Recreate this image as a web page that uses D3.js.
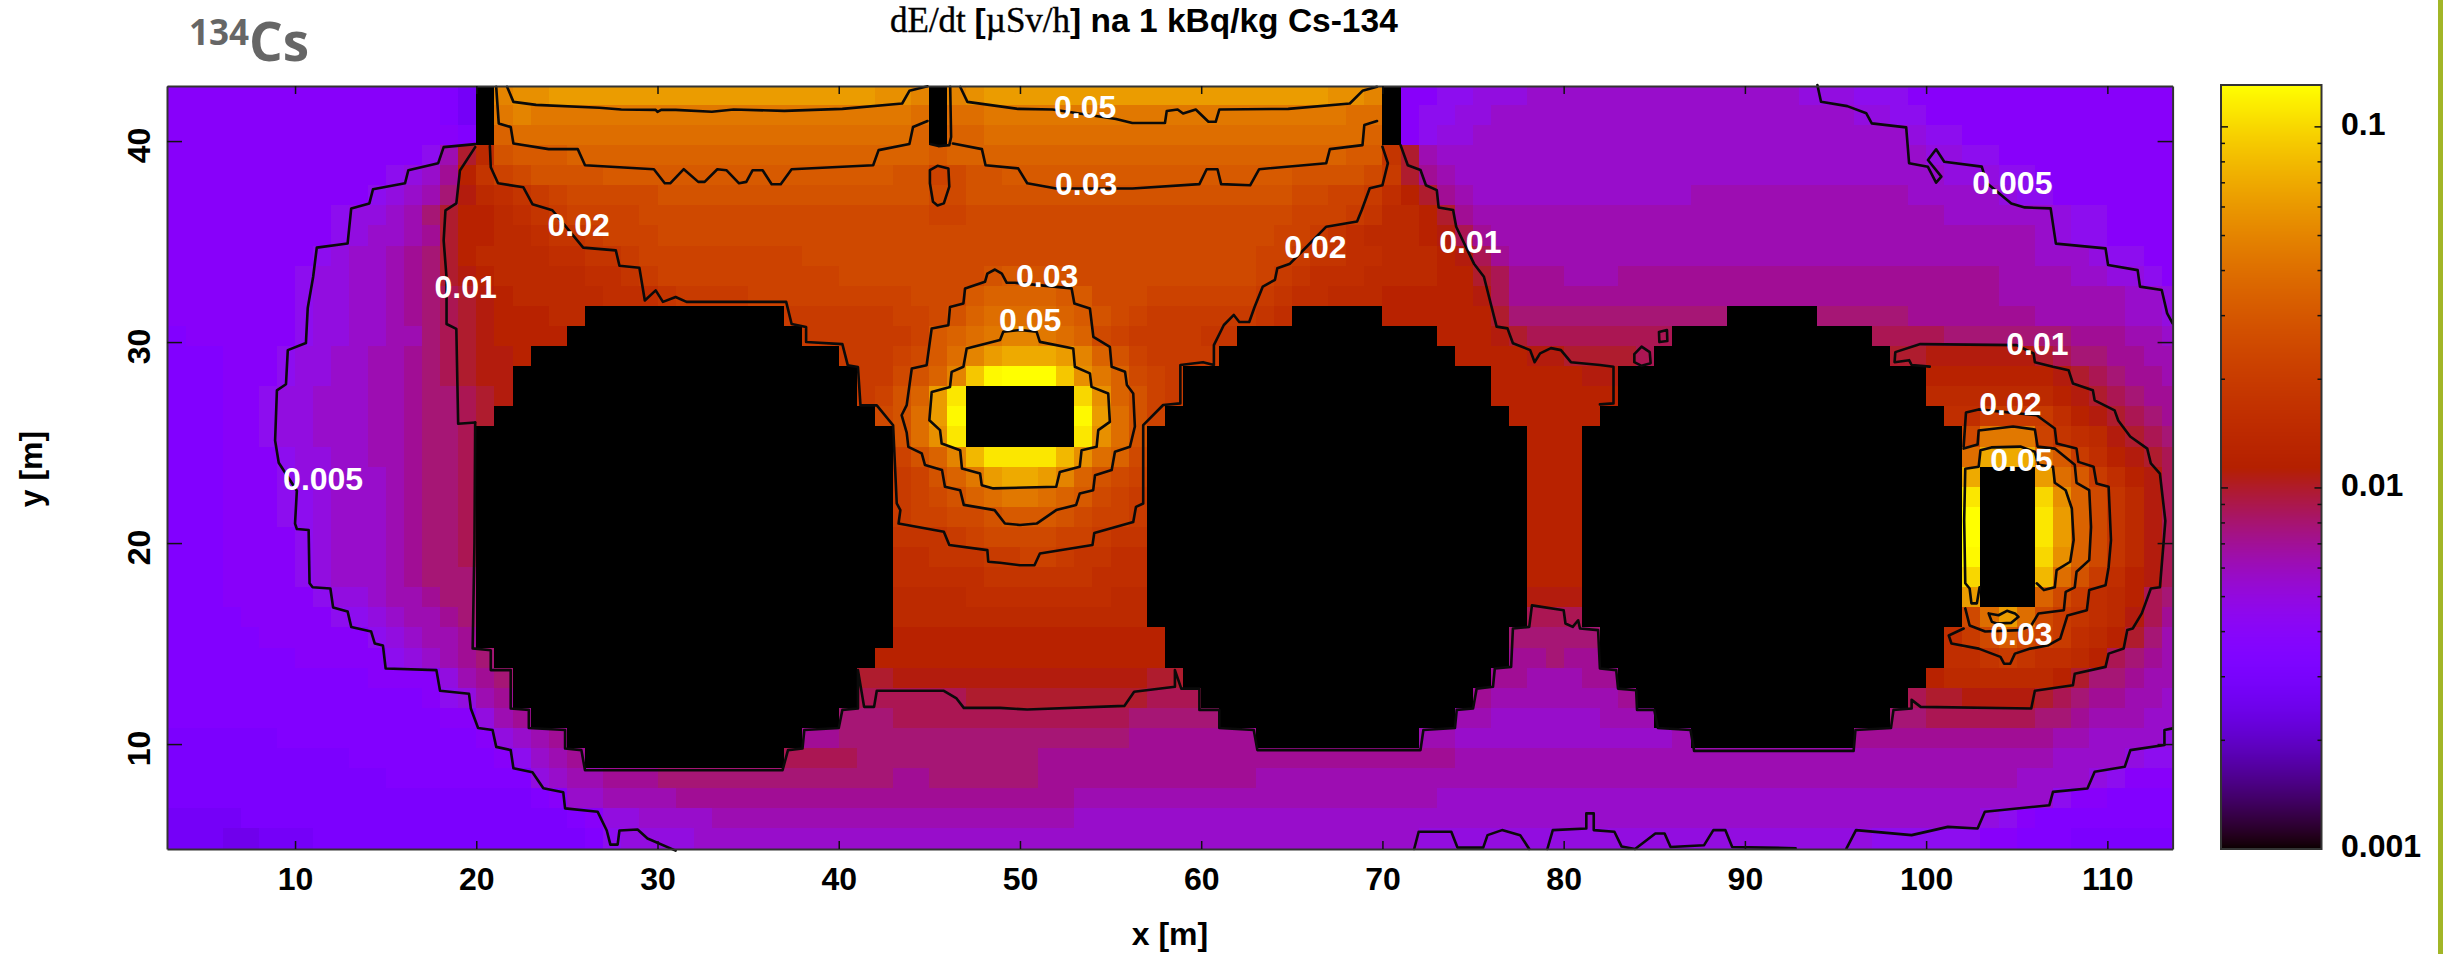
<!DOCTYPE html>
<html>
<head>
<meta charset="utf-8">
<title>dE/dt Cs-134</title>
<script src="https://cdn.jsdelivr.net/npm/d3@7"></script>
<style>
  html, body { margin: 0; padding: 0; background: #fff; }
  svg { display: block; }
  text { font-family: "Liberation Sans", Arial, sans-serif; font-weight: bold; fill: #000; }
</style>
</head>
<body>
<svg id="chart" width="2443" height="954"></svg>
<script>
// Dose rate per cell. One string per metre row, top row first.
// Each character is a level on a log scale (base 36, six levels = a doubling, "0" = 0.0025),
// "." is a cell with no dose (buildings and sources, drawn black).
// Groups of ten columns: x = 3-12, 13-22, ... 103-112, then 113.
var doseRows = [
  "4444444444 4444431.qr rsssssssss sssssssssr rq.qrsssss ssssssssss ssssrrq.44 5566677777 7777777777 6665554444 4444444444 4",
  "4444444444 4444431.pq pppppppppp pppppppppp po.ooppppp pppppppppp pppppoo.45 5667777777 7777777777 7776655444 4444444444 4",
  "4444444444 4444443.no oooooooooo oooooooooo on.nnooooo oooooooooo oooooon.45 6677777777 7777777777 7777776554 4444444444 4",
  "4444444444 444458cflm mmnnnnnnnn nnnnnnnnnn nnmnnnnnnn nnnnnnnnnn nnnnnmmhc8 7777777777 7777777777 7777777665 5444444444 4",
  "4444444444 445679ehjk llllmmmmmm mmmmmmmmmm lljkllmmmm mmmmmmmmmm mmllllkic9 8777777777 7777777777 7777777766 6554444444 4",
  "4444444444 45678adfgh ijkkkkklll llllllllll llkkllllll llllllllll llkkjjigec 9877777777 7777888888 8888887777 7655444444 4",
  "4444444445 6678aceefg hijjjjkkkk kkkkkkkkkk kkjjkkkkkk kkkkkkkkkk kkjjjihffe c988888888 8888888888 8888888877 7777655444 4",
  "4444444445 67789ceeff ghhijjjkkk kkkkkkkkkk kkkkkkkkkk kkkkkkkkkk kjjihgfffe db98888888 8888888888 8888888888 8887655444 4",
  "4444444456 7789acefff fgghhijjjj jjjjjkkkkk kkkkkkkkkk kkkkkkkkkk jjihhggfff edb9888888 8888888888 8888888888 8887776554 4",
  "4444444566 7789acdeff fffgghijjj jjjjjjjkkk kkkkklmlll kkkkkkkkkk jihgggffff eecb999888 9999999999 9999999999 9888877665 4",
  "4444444566 7789abcdef ffffggghii iijjjjjjjj jkkkmnnnnm mkkkjjjjjj ihggfffeee eedb999999 9999999999 9999999999 9888888877 6",
  "4444444566 7789abcdee eff....... ....iiiiii jjklnoooon mlkjiiiiii hg.....eee eeecaaaaaa aaaaaa.... .aaaaa9999 9998888877 6",
  "3444444566 7788abcdee ee........ .....iiiii ijmnopqqpo nkjiiiihh. .......... eeedcbbbbb bbb....... ....bbbbaa aaaaa99988 7",
  "3334445667 7889abcdde .......... .......iii jkmoqsttts qnljiiii.. .......... .eeeeddccc cb........ .....ccddd dddcbaa998 8",
  "3334445667 7889abcdd. .......... ........ii klnqvyzzzv rpnkji.... .......... ...eeeeedd .......... .......eee eeeedcba99 8",
  "3334456677 7889aabcd. .......... ........ij lnsx...... wrnlji.... .......... ...eeeeeee .......... .......fff ffffedcba9 9",
  "3334456677 7889aabc.. .......... .........k losy...... ysolj..... .......... ....eeeee. .......... ........gg iiiigedcba 9",
  "3334456677 7889aab... .......... .......... lorx...... xrol...... .......... .....eee.. .......... .........k pppjhgfdcb a",
  "3334445667 7889aab... .......... .......... jlnquxxxxu ronk...... .......... .....eee.. .......... .........o tttomigedc b",
  "3334445667 7789aab... .......... .......... ijlnpsttsq nlkj...... .......... .....eee.. .......... .........t ...somiged b",
  "3334445567 7789aab... .......... .......... ijklnoppon mkji...... .......... .....eee.. .......... .........x ...wrnkhfd b",
  "3334445567 7789aab... .......... .......... ijjkklmmml kjji...... .......... .....eee.. .......... .........z ...xsnkhfd b",
  "3334444567 7789aab... .......... .......... hhhijkkkkj jihh...... .......... .....eee.. .......... .........z ...xsnkhfd b",
  "3334444567 7789aab... .......... .......... gghhhiijji hhgg...... .......... .....eee.. .......... .........y ...wrnkhfd b",
  "3334444567 7789aaa... .......... .......... ggggghhhhh hggg...... .......... .....eee.. .......... .........w ...uoliged b",
  "3334444456 67889aa... .......... .......... ffffgggggg ggff...... .......... .....ddd.. .......... .........s ...nkigfeb a",
  "3333444445 567889a... .......... .......... ffffffffff ffff...... .......... .....bbb.. .......... .........k osokihgfdb 9",
  "3333344444 4567889... .......... .......... eeeeeeeeee eeeee..... .......... ....aaaaa. .......... ........gi kmkjigfeca 8",
  "3333333444 4456789a.. .......... .........e eeeeeeeeee eeeee..... .......... ....99a99. .......... ........gg hihggfeba9 8",
  "3333333333 34444689a. .......... ........cc dddddddddd ddddcc.... .......... ...9988899 .......... .......eff ffffecaa98 8",
  "3333333333 333345689. .......... ........bb bbbbcccccc ccccbbb... .......... ..98888888 9......... ......bccd dddcba9988 7",
  "3333333333 3333344689 .......... .......aaa bbbbbbbbbb bbbaaaaa.. .......... .887777778 88........ .....aabbb bbbaa98887 7",
  "2222223333 3333333467 89........ .....99aaa aaaaaaaaaa aaa9999999 .........8 8777777777 7778...... ...9999999 9999887777 6",
  "2222222222 3333333345 789....... ....bbbbaa aaaaaaaa99 9999999999 9999999999 9888888888 8888888888 8888888888 8888777765 5",
  "2222222222 2233333333 6788999aaa aaaaaaaaaa 99aaaaaa99 9999999999 8888888888 8888888888 8888888888 8888888888 8877776544 4",
  "2222222222 2222222222 3477888899 9999999999 9999999999 8888888888 8888888888 7777777777 7777777777 7777777777 7777544333 3",
  "1111222222 2222222222 2234667777 8888888888 8888888888 7777777777 7777777777 7777777777 7777777777 7777777777 6543333333 3",
  "1110011122 2222222222 2223566667 7777777777 7777777777 7777777777 7777777776 6666666666 6666666666 6666555555 4433322222 2"
];

var xTicks = [10, 20, 30, 40, 50, 60, 70, 80, 90, 100, 110];
var yTicks = [10, 20, 30, 40];
var cbMajorTicks = [0.001, 0.01, 0.1];
var cbMinorTicks = [0.002, 0.003, 0.004, 0.005, 0.006, 0.007, 0.008, 0.009,
  0.02, 0.03, 0.04, 0.05, 0.06, 0.07, 0.08, 0.09];

// Contour lines, in metres
var contour005Left = [[19.94,39.85],[18.2,39.7],[17.9,38.9],[16.25,38.55],[16.07,37.9],[14.3,37.6],[14.1,36.9],[13.1,36.65],[12.9,34.9],[11.2,34.7],[11,33.25],[10.7,31.7],[10.6,29.95],[9.6,29.6],[9.5,27.9],[9,27.6],[8.9,25.1],[9.1,24],[10.1,22.6],[10,20.97],[10.1,20.7],[10.75,20.65],[10.8,18],[10.97,17.8],[11.95,17.74],[12.1,16.8],[12.9,16.6],[13.1,15.83],[14.2,15.6],[14.4,15],[14.85,14.9],[15,13.76],[17.8,13.68],[18,12.65],[19.6,12.5],[19.7,11.77],[20.1,10.8],[20.9,10.7],[21.1,9.86],[21.9,9.7],[22.05,8.8],[23.1,8.6],[23.7,7.8],[24.8,7.6],[24.9,6.8],[26.7,6.63],[27.2,5.7],[27.4,5],[27.8,5],[27.9,5.7],[28.9,5.75],[29.45,5.3],[31,4.7]];
var contour005Right = [[94,42.79],[94.2,41.96],[95.65,41.74],[96.7,41.38],[97,40.88],[98.9,40.68],[99.06,38.9],[100.1,38.72],[100.55,37.93],[100.84,38.23],[100.1,39.06],[100.55,39.59],[101,38.97],[103.07,38.73],[103.36,37.9],[104.7,36.9],[105.44,36.7],[106.87,36.65],[107.16,34.9],[109.9,34.66],[110.04,33.83],[111.67,33.58],[111.8,32.76],[113,32.59],[113.3,31.43],[113.6,30.93]];
var contour005Lower = [[113.6,10.78],[113.15,10.7],[113.15,9.95],[111.27,9.7],[110.96,8.87],[109.3,8.62],[108.9,7.79],[107,7.62],[106.8,6.96],[103.24,6.63],[102.84,5.8],[101.2,5.88],[99.2,5.47],[96.13,5.72],[95.6,4.8]];
var contour005Bumps1 = [[71.75,4.78],[72,5.64],[73.8,5.64],[74.14,4.85],[75.56,4.85],[75.8,5.47],[76.6,5.72],[77.6,5.47],[78.1,4.78]];
var contour005Bumps2 = [[79.1,4.78],[79.4,5.72],[81.25,5.8],[81.25,6.55],[81.66,6.55],[81.66,5.72],[82.8,5.64],[83.2,4.9],[83.94,4.78],[85.06,5.55],[85.57,5.55],[85.9,4.88],[87.75,4.97],[88.26,5.72],[88.92,5.72],[89.3,4.88],[92.8,4.82]];
var contour01Left = [[19.94,39.7],[19.1,38.54],[18.9,36.9],[18.3,36.55],[18.2,35.06],[18.36,33.2],[18.36,30.9],[18.9,30.66],[19,25.94],[19.94,26]];
var contour01Top = [[71,39.8],[71.4,38.8],[72.1,38.56],[72.4,37.8],[73,37.56],[73.1,36.7],[73.9,36.57],[74.07,35.74],[75.05,33.9],[75.6,33.25],[76.3,30.77],[76.9,30.68],[77.2,29.94],[78.15,29.6],[78.4,29],[78.7,29.44],[79.3,29.7],[79.85,29.6],[80.4,29],[82,28.86],[82.75,28.77],[82.75,26.95],[82,26.9]];
var contour01Around = [[19.94,26],[19.9,20],[19.8,14.76],[20.8,14.67],[20.8,13.68],[21.9,13.68],[21.9,11.77],[22.9,11.7],[22.9,10.8],[24.9,10.7],[24.9,9.78],[25.8,9.7],[26,8.7],[36.9,8.7],[37.2,9.7],[38,9.78],[38.1,10.7],[40,10.8],[40.2,11.7],[41.06,11.77],[41.06,13.68],[41.4,11.85],[41.95,11.85],[42.1,12.65],[45.8,12.65],[46.5,12.27],[46.9,11.8],[48.9,11.8],[50.4,11.72],[55.76,11.9],[56.3,12.6],[58.55,12.85],[58.55,13.68],[58.9,12.76],[59.9,12.76],[59.9,11.7],[61,11.7],[61,10.8],[62.9,10.7],[63.1,9.7],[72.1,9.7],[72.26,10.7],[74,10.8],[74.1,11.7],[75,11.77],[75.2,12.76],[76.1,12.85],[76.2,13.76],[77.1,13.84],[77.2,15.75],[78.1,15.83],[78.25,16.9],[80,16.66],[80.1,16],[80.5,15.83],[80.8,16.16],[80.9,15.75],[81.9,15.67],[82,13.76],[82.9,13.68],[83,12.76],[84,12.68],[84.05,11.7],[85,11.7],[85.2,10.8],[87,10.7],[87.2,9.66],[96,9.66],[96.1,10.7],[98.06,10.8],[98.2,11.7],[99.2,11.77],[99.2,12.2],[99.7,11.85],[105.8,11.77],[106,12.65],[108.1,12.93],[108.2,13.5],[109.9,13.84],[110.07,14.5],[110.9,14.75],[111.1,15.67],[111.4,15.75],[111.9,16.5],[112.4,17.74],[112.9,17.8],[113.2,21.1],[112.9,23.46],[112.4,23.96],[112.2,24.7],[111.26,25.3],[110.6,26.1],[110.4,26.6],[109.3,27.1],[109.2,27.6],[108.1,27.94],[107.86,28.6],[107,28.77],[106,29],[105.93,29.43],[105,29.85],[99.68,29.9],[98.3,29.5],[98.26,29],[99.06,29.1],[99.2,28.86],[100.2,28.78]];
var contour01Island1 = [[83.9,29.4],[84.3,29.77],[84.75,29.5],[84.8,28.95],[84.3,28.82],[83.9,29],[83.9,29.4]];
var contour01Island2 = [[85.26,30.5],[85.7,30.6],[85.72,30.05],[85.28,30],[85.26,30.5]];
var contour02Main = [[20.75,39.75],[20.8,38.7],[21.2,37.9],[22.6,37.7],[23.1,36.86],[24.2,36.56],[25.9,34.7],[27.7,34.56],[27.9,33.8],[29,33.7],[29.3,32.07],[29.9,32.57],[30.3,32],[31,32.24],[31.6,32],[37.1,32],[37.4,30.9],[38.2,30.75],[38.2,30],[40.2,29.9],[40.5,28.84],[41.06,28.76],[41.2,26.85],[42.1,26.85],[43,25.86],[43.2,21.97],[43.4,21.64],[43.3,20.97],[45.8,20.56],[46.1,19.9],[48.2,19.65],[48.25,19.07],[48.9,19.02],[50,18.9],[50.8,18.9],[51.1,19.48],[54,19.9],[54.1,20.5],[56.25,21.05],[56.4,21.8],[56.8,21.97],[56.8,25.87],[57.9,26.87],[58.85,26.95],[58.85,28.86],[60.1,29],[60.7,28.86],[60.7,29.85],[61.25,30.85],[61.8,31.35],[62.1,31],[62.65,31],[62.95,31.76],[63.4,32.76],[64.07,33.1],[64.2,33.67],[64.9,33.9],[66.9,35.74],[68.6,36],[68.86,36.57],[69.3,37.65],[70,37.8],[70.3,38.9],[70,39.72]];
var contour02Right = [[102.07,24.8],[102.2,26.5],[102.9,26.65],[106.1,26.36],[107.1,25.7],[107.2,24.95],[108.3,24.7],[108.4,24.04],[109.24,23.8],[109.4,22.97],[110.07,22.8],[110.2,20.15],[110.07,18.8],[109.9,17.9],[109,17.66],[108.87,16.66],[107.8,16.4],[107.4,15.25],[106.7,14.9],[105.75,14.75],[104.9,14.5],[104.64,14],[104.3,14],[104.1,14.34],[102.9,14.75],[101.4,15],[101.25,15.4],[102.07,15.75]];
var contour03TopLeft = [[21.1,42.7],[21.24,40.88],[21.9,40.7],[22.05,39.88],[24,39.6],[25.6,39.6],[26,38.8],[29.8,38.6],[30.4,37.9],[30.7,37.9],[31.45,38.6],[32.25,37.97],[32.6,37.97],[33.3,38.6],[33.8,38.55],[34.5,37.9],[34.9,37.97],[35.25,38.55],[35.8,38.55],[36.3,37.85],[36.8,37.85],[37.4,38.6],[41.9,38.8],[42.2,39.55],[43.9,39.85],[44.1,40.7],[44.9,41]];
var contour03TopRight = [[46.3,39.88],[47.9,39.6],[48.1,38.8],[49.9,38.64],[50.4,37.9],[52,37.64],[56.2,37.64],[59.9,37.86],[60.3,38.6],[60.9,38.6],[61.1,37.86],[62.7,37.8],[63.2,38.6],[66.9,38.9],[67.1,39.6],[68.9,39.8],[69,40.8],[69.7,41]];
var contour03Pillar = [[46.15,42.7],[46.2,40.2],[46.1,39.8],[45.5,39.75],[45.05,39.85]];
var contour03Loop = [[45.03,38.55],[45.45,38.77],[46.05,38.64],[46.1,37.73],[45.8,36.9],[45.45,36.8],[45.2,36.98],[45.03,37.9],[45.03,38.55]];
var contour03Centre = [[48.2,33.41],[48.62,33.61],[49,33.41],[49.27,32.95],[49.72,32.95],[52.85,32.67],[53,31.92],[53.86,31.67],[54.05,30.26],[54.96,29.76],[55.06,28.77],[55.8,28.52],[55.9,27.86],[56.25,27.44],[56.34,25.8],[56.07,24.79],[55.24,24.54],[55.06,23.63],[54.14,23.38],[54.04,22.63],[53.3,22.47],[53.1,21.9],[52,21.64],[50.92,20.97],[50,20.9],[49.17,20.97],[48.6,21.64],[46.9,21.9],[46.7,22.63],[45.86,22.8],[45.7,23.63],[44.76,23.88],[44.58,24.46],[43.84,24.79],[43.75,25.5],[43.47,26.36],[43.75,26.86],[44.03,28.68],[44.85,28.85],[45.13,30.68],[46.05,30.84],[46.14,31.75],[46.88,31.92],[46.97,32.67],[48.07,33],[48.2,33.41]];
var contour03Right = [[102.07,24.7],[102.84,24.9],[102.9,25.6],[104.8,25.8],[106,25.65],[106.15,24.8],[107.1,24.7],[108.2,23.9],[108.3,23],[109,22.63],[109.1,20.8],[109,19.15],[108.3,18.57],[108.2,17.8],[107.7,17.57],[107.6,16.66],[106.2,16.5],[105.8,15.9],[105.2,15.67],[103.26,15.6],[102.4,15.9],[102.16,16.75]];
var contour05TopLeft = [[21.7,42.7],[22.05,41.95],[23.3,41.8],[26.8,41.66],[28,41.57],[29.9,41.55],[30,41.45],[30.2,41.55],[31,41.55],[33,41.46],[34.2,41.57],[37,41.5],[40.2,41.6],[43.5,41.87],[43.9,42.5],[44.9,42.73]];
var contour05TopRight = [[46.7,42.7],[47.1,41.95],[49.9,41.6],[51.8,41.57],[55.3,41.1],[56.2,40.9],[58,40.9],[58.1,41.5],[58.7,41.57],[59,41.37],[59.7,41.57],[60.4,40.96],[60.8,40.96],[61,41.57],[64.8,41.6],[68.2,41.87],[68.9,42.5],[69.7,42.7]];
var contour05Centre = [[49.08,30.51],[48.9,30.1],[47.06,29.68],[46.88,28.77],[46.23,28.52],[46.14,27.77],[45.13,27.52],[45,26.11],[45.59,25.62],[45.68,24.95],[46.7,24.62],[46.8,23.71],[47.8,23.46],[47.89,22.88],[48.53,22.72],[52,22.8],[52.2,23.54],[53.3,23.8],[53.4,24.62],[54.23,24.79],[54.32,25.62],[54.96,26.03],[54.87,27.44],[53.95,27.77],[53.86,28.44],[53.03,28.77],[52.94,29.68],[51.1,30.01],[50.92,30.51],[50,30.6],[49.08,30.51]];
var contour05Right = [[102.95,17.8],[102.8,17],[102.5,17],[102.4,17.74],[102.16,18],[102.1,21.14],[102.16,23.7],[102.9,23.8],[103,24.62],[103.6,24.76],[105.2,24.8],[106,24.54],[106.2,23.9],[107,23.8],[107.1,23],[107.7,22.63],[108.04,21.72],[108.14,20.15],[107.95,19.07],[107.2,18.65],[107.1,17.8],[106.5,17.66],[106.1,18]];
var contour05Island = [[103.45,16.5],[104,16.41],[104.46,16.63],[104.9,16.5],[105.1,16.33],[104.7,16.03],[103.9,16],[103.63,16.08],[103.45,16.5]];

var contourLines = [contour005Left, contour005Right, contour005Lower, contour005Bumps1, contour005Bumps2,
  contour01Left, contour01Top, contour01Around, contour01Island1, contour01Island2,
  contour02Main, contour02Right, contour03TopLeft, contour03TopRight, contour03Pillar, contour03Loop, contour03Centre, contour03Right,
  contour05TopLeft, contour05TopRight, contour05Centre, contour05Right, contour05Island];

var labelTexts = ["0.05", "0.03", "0.02", "0.01", "0.005", "0.03", "0.05", "0.02", "0.01", "0.005", "0.01", "0.02", "0.05", "0.03"];
var labelX = [53.6, 53.65, 25.65, 19.41, 11.55, 51.5, 50.56, 66.3, 74.85, 104.76, 106.14, 104.65, 105.26, 105.26];
var labelY = [41.71, 37.89, 35.87, 32.79, 23.23, 33.33, 31.12, 34.74, 34.99, 37.94, 29.93, 26.94, 24.18, 15.5];

var svg = d3.select("#chart");

var margin = {left: 167, right: 2172.6, top: 86, bottom: 849};
var x = d3.scaleLinear().domain([2.935, 113.6]).range([margin.left, margin.right]);
var y = d3.scaleLinear().domain([4.78, 42.74]).range([margin.bottom, margin.top]);
var cb = d3.scaleLog().domain([0.001, 0.1306]).range([0, 1]);
var cbY = d3.scaleLog().domain([0.001, 0.1306]).range([849, 85]);

// gnuplot's default pm3d palette (rgbformulae 7,5,15)
function palette(t) {
  t = Math.max(0, Math.min(1, t));
  var b = Math.max(0, Math.sin(2 * Math.PI * t));
  return d3.rgb(255 * Math.sqrt(t), 255 * t * t * t, 255 * b).formatHex();
}

function levelToDose(ch) {
  if (ch == ".") return 0.001;
  return 0.0025 * Math.pow(10, parseInt(ch, 36) / 20);
}

var cells = [];
doseRows.forEach(function(row, r) {
  row.replace(/ /g, "").split("").forEach(function(ch, c) {
    cells.push({
      x0: Math.max(3 + c, x.domain()[0]) - (c == 0 ? 0.07 : 0),
      x1: Math.min(4 + c, x.domain()[1]),
      y1: Math.min(42.8 - r, y.domain()[1]),
      y0: Math.max(41.8 - r, y.domain()[0]),
      dose: levelToDose(ch)
    });
  });
});

var defs = svg.append("defs");
defs.append("filter").attr("id", "soft").append("feGaussianBlur").attr("stdDeviation", 0.7);

// Heat map
svg.append("g")
  .attr("filter", "url(#soft)")
  .attr("shape-rendering", "crispEdges")
  .selectAll("rect")
  .data(cells)
  .enter().append("rect")
    .attr("x", function(d) { return x(d.x0); })
    .attr("y", function(d) { return y(d.y1); })
    .attr("width", function(d) { return x(d.x1) - x(d.x0) + 0.5; })
    .attr("height", function(d) { return y(d.y0) - y(d.y1) + 0.5; })
    .attr("fill", function(d) { return palette(cb(d.dose)); });

// Contour lines
var line = d3.line()
  .x(function(d) { return x(d[0]); })
  .y(function(d) { return y(d[1]); });

svg.append("g")
  .selectAll("path")
  .data(contourLines)
  .enter().append("path")
    .attr("d", line)
    .attr("fill", "none")
    .attr("stroke", "#0a0a0a")
    .attr("stroke-width", 2.6)
    .attr("stroke-linejoin", "round")
    .attr("stroke-linecap", "round");

// White labels on the contours
svg.append("g")
  .selectAll("text")
  .data(labelTexts)
  .enter().append("text")
    .attr("x", function(d, i) { return x(labelX[i]); })
    .attr("y", function(d, i) { return y(labelY[i]); })
    .attr("dy", "0.36em")
    .attr("text-anchor", "middle")
    .style("fill", "#fff")
    .style("font-size", "32px")
    .text(function(d) { return d; });

// Frame and axes
function styleAxis(g) {
  g.selectAll(".domain").attr("stroke", "#333").attr("stroke-width", 2);
  g.selectAll(".tick line").attr("stroke", "#111").attr("stroke-width", 1.5);
  g.selectAll("text").style("font-size", "32px").style("font-family", "inherit").style("font-weight", "bold").attr("fill", "#000");
}

var xAxis = svg.append("g")
  .attr("transform", "translate(0," + margin.bottom + ")")
  .call(d3.axisBottom(x).tickValues(xTicks).tickSizeInner(-8).tickSizeOuter(0).tickPadding(18));
xAxis.call(styleAxis);
xAxis.selectAll("text").attr("dy", "0.71em");

svg.append("g")
  .attr("transform", "translate(0," + margin.top + ")")
  .call(d3.axisTop(x).tickValues(xTicks).tickSizeInner(-8).tickSizeOuter(0).tickFormat(""))
  .call(styleAxis);

var yAxis = svg.append("g")
  .attr("transform", "translate(" + margin.left + ",0)")
  .call(d3.axisLeft(y).tickValues(yTicks).tickSizeInner(-15).tickSizeOuter(0).tickPadding(0));
yAxis.call(styleAxis);
yAxis.selectAll("text")
  .attr("text-anchor", "middle")
  .attr("dy", 0)
  .attr("x", 0)
  .attr("y", 0)
  .attr("transform", function() { return "translate(-17,4) rotate(-90)"; });

svg.append("g")
  .attr("transform", "translate(" + margin.right + ",0)")
  .call(d3.axisRight(y).tickValues(yTicks).tickSizeInner(-15).tickSizeOuter(0).tickFormat(""))
  .call(styleAxis);

svg.append("text")
  .attr("x", 1170).attr("y", 945)
  .attr("text-anchor", "middle")
  .style("font-size", "32px")
  .text("x [m]");

svg.append("text")
  .attr("transform", "translate(42,469) rotate(-90)")
  .attr("text-anchor", "middle")
  .style("font-size", "32px")
  .text("y [m]");

// Colour box
var cbLeft = 2221, cbRight = 2321.5;
var cbStops = d3.range(0, 764);
svg.append("g")
  .selectAll("rect")
  .data(cbStops)
  .enter().append("rect")
    .attr("x", cbLeft)
    .attr("y", function(d) { return 85 + d; })
    .attr("width", cbRight - cbLeft)
    .attr("height", 1.5)
    .attr("fill", function(d) { return palette(1 - d / 764); });

svg.append("rect")
  .attr("x", cbLeft).attr("y", 85)
  .attr("width", cbRight - cbLeft).attr("height", 764)
  .attr("fill", "none")
  .attr("stroke", "#333")
  .attr("stroke-width", 2);

function cbTicks(values, len) {
  [[cbLeft, len], [cbRight, -len]].forEach(function(side) {
    svg.append("g")
      .selectAll("line")
      .data(values)
      .enter().append("line")
        .attr("x1", side[0])
        .attr("x2", side[0] + side[1])
        .attr("y1", function(d) { return cbY(d); })
        .attr("y2", function(d) { return cbY(d); })
        .attr("stroke", "#111")
        .attr("stroke-width", 1.5);
  });
}
cbTicks(cbMajorTicks.slice(1), 7);
cbTicks(cbMinorTicks, 4);

svg.append("g")
  .selectAll("text")
  .data(cbMajorTicks)
  .enter().append("text")
    .attr("x", 2341)
    .attr("y", function(d) { return cbY(d) + 8; })
    .style("font-size", "32px")
    .text(function(d) { return d; });

// Title, half serif like the original
var title = svg.append("text")
  .attr("x", 890).attr("y", 32)
  .style("font-size", "33.5px");
title.append("tspan").style("font-family", "'Liberation Serif', serif").style("font-weight", "normal").style("font-size", "35px").style("stroke", "#000").style("stroke-width", 0.4).text("dE/dt ");
title.append("tspan").text("[");
title.append("tspan").style("font-family", "'Liberation Serif', serif").style("font-weight", "normal").style("font-size", "35px").style("stroke", "#000").style("stroke-width", 0.4).text("µSv/h");
title.append("tspan").text("] na 1 kBq/kg Cs-134");

// Slide heading and the green strip at the page edge
svg.append("text")
  .attr("x", 189).attr("y", 45)
  .style("font-family", "'Open Sans', sans-serif")
  .style("font-size", "35px")
  .style("fill", "#666")
  .text("134");
svg.append("text")
  .attr("x", 249).attr("y", 61)
  .style("font-family", "'Open Sans', sans-serif")
  .style("font-size", "53px")
  .style("fill", "#666")
  .text("Cs");

svg.append("rect")
  .attr("x", 2438).attr("y", 0)
  .attr("width", 5).attr("height", 954)
  .attr("fill", "#a2b627");
</script>
</body>
</html>
